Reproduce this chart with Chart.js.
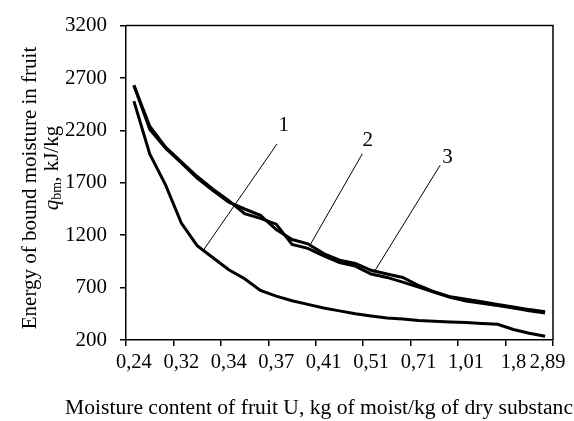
<!DOCTYPE html>
<html>
<head>
<meta charset="utf-8">
<script src="https://cdn.jsdelivr.net/npm/chart.js@4.4.1/dist/chart.umd.min.js"></script>
<style>
  html, body { margin: 0; padding: 0; background: #fff; }
  #wrap { width: 574px; height: 421px; position: relative; }
</style>
</head>
<body>
<div id="wrap"><canvas id="energyChart"></canvas></div>
<script>
// Moisture content categories (only some of them carry a label)
const categories = [
  '0,24', '', '', '0,32', '', '', '0,34', '', '', '0,37', '', '', '0,41', '', '',
  '0,51', '', '', '0,71', '', '', '1,01', '', '', '1,8', '', ' 2,89'
];

// Energy of bound moisture, kJ/kg
const curve1 = [2480, 1975, 1680, 1315, 1100, 985, 870, 785, 672, 618, 575, 540, 505, 478,
  450, 430, 410, 400, 385, 380, 372, 366, 358, 350, 300, 265, 235];
const curve2 = [2630, 2240, 2040, 1900, 1760, 1640, 1530, 1405, 1360, 1305, 1112, 1075, 1002, 940,
  905, 830, 797, 752, 705, 655, 608, 573, 550, 528, 505, 480, 458];
const curve3 = [2630, 2210, 2030, 1890, 1745, 1625, 1515, 1450, 1390, 1254, 1159, 1118, 1024, 961,
  930, 865, 830, 797, 720, 660, 612, 590, 565, 540, 515, 490, 470];

const yMin = 200;
const yMax = 3200;
const yStep = 500;

// Curve numbers with leader lines, in chart units [category index, value]
const calloutText = ['1', '2', '3'];
const calloutLabelAt = [[9.48, 2247], [14.79, 2106], [19.83, 1945]];
const calloutLineFrom = [[9.05, 2071], [14.44, 1976], [19.36, 1867]];
const calloutLineTo = [[4.39, 1056], [11.16, 1112], [15.17, 844]];

const FONT = '"Liberation Serif", "Times New Roman", serif';

(function() {
  const ctxEl = document.getElementById('energyChart');

  const framePlugin = {
    id: 'frameAndTitles',
    afterDraw(chart) {
      const ctx = chart.ctx;
      const area = chart.chartArea;
      const xs = chart.scales.x;
      const ys = chart.scales.y;
      ctx.save();

      // box round the plot
      ctx.strokeStyle = '#000';
      ctx.lineWidth = 1.5;
      ctx.beginPath();
      ctx.moveTo(area.left, area.top);
      ctx.lineTo(area.right, area.top);
      ctx.lineTo(area.right, area.bottom);
      ctx.stroke();

      // callouts
      ctx.lineWidth = 1;
      ctx.fillStyle = '#000';
      ctx.font = '21px ' + FONT;
      ctx.textAlign = 'center';
      ctx.textBaseline = 'middle';
      calloutText.forEach(function(t, i) {
        ctx.beginPath();
        ctx.moveTo(xs.getPixelForValue(calloutLineFrom[i][0]), ys.getPixelForValue(calloutLineFrom[i][1]));
        ctx.lineTo(xs.getPixelForValue(calloutLineTo[i][0]), ys.getPixelForValue(calloutLineTo[i][1]));
        ctx.stroke();
        ctx.fillText(t, xs.getPixelForValue(calloutLabelAt[i][0]), ys.getPixelForValue(calloutLabelAt[i][1]));
      });

      // x axis title
      ctx.font = '21.6px ' + FONT;
      ctx.textAlign = 'left';
      ctx.textBaseline = 'alphabetic';
      ctx.fillText('Moisture content of fruit U, kg of moist/kg of dry substance', 65, 414);

      // y axis title, two lines
      ctx.font = '21px ' + FONT;
      ctx.translate(30, 188);
      ctx.rotate(-Math.PI / 2);
      ctx.textAlign = 'center';
      ctx.textBaseline = 'middle';
      ctx.fillText('Energy of bound moisture in fruit', 0, 0);
      ctx.rotate(Math.PI / 2);
      ctx.translate(22, -20);
      ctx.rotate(-Math.PI / 2);
      ctx.textAlign = 'left';
      ctx.font = 'italic 21px ' + FONT;
      const wq = ctx.measureText('q').width;
      ctx.font = '14px ' + FONT;
      const wsub = ctx.measureText('bm').width;
      ctx.font = '21px ' + FONT;
      const wrest = ctx.measureText(', kJ/kg').width;
      let x0 = -(wq + wsub + wrest) / 2;
      ctx.font = 'italic 21px ' + FONT;
      ctx.fillText('q', x0, 0);
      ctx.font = '14px ' + FONT;
      ctx.fillText('bm', x0 + wq, 5);
      ctx.font = '21px ' + FONT;
      ctx.fillText(', kJ/kg', x0 + wq + wsub, 0);

      ctx.restore();
    }
  };

  const lineStyle = {
    borderColor: '#000',
    borderWidth: 3,
    pointRadius: 0,
    tension: 0,
    fill: false
  };

  new Chart(ctxEl, {
    type: 'line',
    data: {
      labels: categories,
      datasets: [
        Object.assign({ label: '1', data: curve1 }, lineStyle),
        Object.assign({ label: '2', data: curve2 }, lineStyle),
        Object.assign({ label: '3', data: curve3 }, lineStyle)
      ]
    },
    options: {
      responsive: true,
      maintainAspectRatio: false,
      animation: false,
      events: [],
      layout: {
        padding: { left: 0, top: 22, right: 21, bottom: 0 }
      },
      plugins: {
        legend: { display: false },
        tooltip: { enabled: false }
      },
      scales: {
        x: {
          type: 'category',
          offset: true,
          afterFit: function(s) { s.height = 81; },
          grid: {
            offset: true,
            drawOnChartArea: false,
            tickLength: 6,
            lineWidth: 1.5,
            color: function(c) {
              const i = c.index === undefined ? categories.length : c.index;
              return i % 3 === 0 ? '#000' : 'rgba(0,0,0,0)';
            }
          },
          border: { color: '#000', width: 1.5 },
          ticks: {
            autoSkip: false,
            maxRotation: 0,
            minRotation: 0,
            padding: 4,
            color: '#000',
            font: { family: FONT, size: 20.5 }
          }
        },
        y: {
          min: yMin,
          max: yMax,
          afterFit: function(s) { s.width = 126; },
          grid: {
            drawOnChartArea: false,
            tickLength: 6,
            lineWidth: 1.5,
            color: '#000'
          },
          border: { color: '#000', width: 1.5 },
          ticks: {
            stepSize: yStep,
            padding: 13,
            color: '#000',
            font: { family: FONT, size: 21 },
            callback: function(v) { return String(v); }
          }
        }
      }
    },
    plugins: [framePlugin]
  });
})();
</script>
</body>
</html>
